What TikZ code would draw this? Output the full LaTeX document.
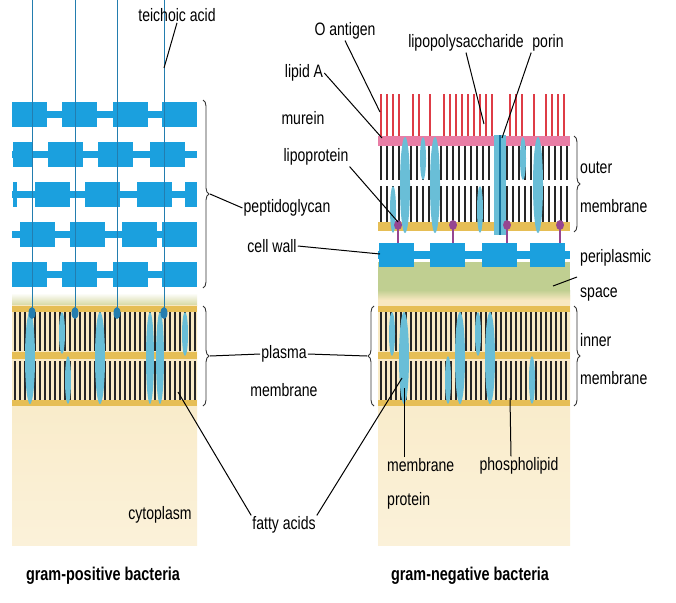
\documentclass[tikz,border=0pt]{standalone}
\usepackage{fontspec}
\setmainfont[FakeStretch=0.78]{Liberation Sans}
\usetikzlibrary{decorations.pathreplacing}
\definecolor{pg}{RGB}{27,160,222}
\definecolor{prot}{RGB}{105,190,215}
\definecolor{head}{RGB}{230,190,85}
\definecolor{oant}{RGB}{222,60,70}
\definecolor{lps}{RGB}{232,125,165}
\definecolor{peri}{RGB}{192,207,145}
\definecolor{cyto}{RGB}{248,232,192}
\definecolor{lpro}{RGB}{150,70,145}
\definecolor{tei}{RGB}{35,125,175}
\tikzset{
 lbl/.style={font=\fontsize{18}{19}\selectfont,inner sep=1pt},
 ttl/.style={font=\fontsize{18.5}{20}\selectfont\bfseries,inner sep=1pt},
 conn/.style={draw=black,line width=1pt},
 brc/.style={draw=black!80,line width=0.9pt,decorate,decoration={brace,amplitude=6pt}},
 tail/.style={line width=1.4pt,black!85},
}
\newcommand\pgrow[6]{% y, then 4 block x starts, width 35
 \fill[pg] (12,#1+9) rectangle (197,#1+16);
 \foreach \bx in {#2,#3,#4,#5} \fill[pg] (\bx,#1) rectangle (\bx+35,#1+25);
 #6}
\newcommand\bilayer[4]{% x1, x2, ytop, count
 \fill[head] (#1,#3) rectangle (#2,#3+6);
 \fill[head] (#1,#3+46) rectangle (#2,#3+53);
 \fill[head] (#1,#3+94) rectangle (#2,#3+100);
 \foreach \k in {0,...,#4} {
  \pgfmathsetmacro\xx{#1+3+5*\k}
  \draw[tail] (\xx,#3+6) -- (\xx,#3+45);
  \draw[tail] (\xx,#3+55) -- (\xx,#3+94);}
}
\begin{document}
\begin{tikzpicture}[x=1pt,y=-1pt]
\useasboundingbox (0,0) rectangle (676,602);
\fill[white] (0,0) rectangle (676,602);
% ---------------- gram positive
\shade[top color=white,bottom color=peri!60!cyto] (12,293) rectangle (197,305);
\shade[top color=cyto,bottom color=cyto!60!white] (12,305) rectangle (197,545);
\pgrow{102}{12}{62}{113}{162}{}
\pgrow{142}{48}{98}{150}{150}{\fill[pg](13,142) rectangle (32,167);}
\pgrow{182}{35}{85}{137}{137}{\fill[pg](13,182) rectangle (17,207);\fill[pg](185,182) rectangle (197,207);}
\pgrow{222}{20}{70}{122}{162}{}
\pgrow{262}{12}{62}{113}{162}{}
\bilayer{12}{197}{306}{36}
\foreach \x/\t/\b/\r in {30/312/404/5,62/312/354/3,68/356/404/3,100/312/404/5,150/312/404/4,160/312/404/4,185/312/356/3}
  \fill[prot] (\x,{(\t+\b)/2}) ellipse ({\r} and {(\b-\t)/2});
\foreach \x in {32,75,117,164} {
  \draw[tei,line width=1pt] (\x,0) -- (\x,312);
  \fill[tei] (\x,313) ellipse (3.5 and 6);}
% ---------------- gram negative
\shade[top color=cyto,bottom color=cyto!60!white] (378,295) rectangle (570,545);
\fill[peri] (378,262) rectangle (570,293);
\shade[top color=peri,bottom color=cyto] (378,290) rectangle (570,300);
\foreach \x in {381,387,393,399,413,419,430,444,450,456,462,468,474,480,486,492,510,516,522,534,546,552,558,564}
  \draw[oant,line width=1.4pt] (\x,94) -- (\x,136);
\fill[lps] (378,136) rectangle (570,146);
\foreach \x in {381,387,...,568} {
  \draw[tail] (\x,146) -- (\x,180);
  \draw[tail] (\x,186) -- (\x,222);}
\fill[head] (378,222) rectangle (570,231);
\foreach \x/\t/\b/\r in {405/137/233/5,423/137/180/3,435/137/233/5,393/186/233/3,480/186/233/3,523/137/180/3,538/137/233/5}
  \fill[prot] (\x,{(\t+\b)/2}) ellipse ({\r} and {(\b-\t)/2});
\fill[prot] (494,135) rectangle (506,235);
\fill[pg!70!black] (499,135) rectangle (501,235);
\fill[pg] (378,251) rectangle (570,259);
\foreach \bx in {379,430,482,530} \fill[pg] (\bx,243) rectangle (\bx+35,267);
\foreach \x in {398,453,507,560} {
  \draw[lpro,line width=1.2pt] (\x,226) -- (\x,243);
  \fill[lpro] (\x,225) ellipse (4 and 5);}
\bilayer{378}{570}{306}{37}
\foreach \x/\t/\b/\r in {392/312/356/3,404/312/404/5,448/356/404/3,460/312/404/5,478/312/356/3,490/312/404/5,532/356/404/3}
  \fill[prot] (\x,{(\t+\b)/2}) ellipse ({\r} and {(\b-\t)/2});
% ---------------- braces
\draw[brc] (203,100) -- (203,288);
\draw[brc] (203,306) -- (203,406);
\draw[brc] (574,136) -- (574,232);
\draw[brc] (574,306) -- (574,406);
\draw[brc] (374,406) -- (374,306);
\coordinate (bpg) at (210,194);
\coordinate (bpm) at (210,356);
\coordinate (bim) at (367,356);
% ---------------- labels
\node[lbl] (teich) at (177,15) {teichoic acid};
\node[lbl] (oag) at (345,31) {O antigen};
\node[lbl] (lpsl) at (466,43) {lipopolysaccharide};
\node[lbl] (porin) at (548,43) {porin};
\node[lbl] (lipa) at (304,73) {lipid A};
\node[lbl] (mur) at (303,118) {murein};
\node[lbl] (lpl) at (316,157) {lipoprotein};
\node[lbl] (pgl) at (287,208) {peptidoglycan};
\node[lbl] (cw) at (272,246) {cell wall};
\node[lbl,anchor=west] (per1) at (579,258) {periplasmic};
\node[lbl,anchor=west] (per2) at (579,295) {space};
\node[lbl,anchor=west] (om1) at (579,168) {outer};
\node[lbl,anchor=west] (om2) at (579,206) {membrane};
\node[lbl,anchor=west] (im1) at (579,340) {inner};
\node[lbl,anchor=west] (im2) at (579,378) {membrane};
\node[lbl] (pm1) at (284,354) {plasma};
\node[lbl] (pm2) at (284,390) {membrane};
\node[lbl,anchor=west] (mp1) at (386,465) {membrane};
\node[lbl,anchor=west] (mp2) at (386,501) {protein};
\node[lbl] (phl) at (519,466) {phospholipid};
\node[lbl] (fal) at (284,525) {fatty acids};
\node[lbl] (cyl) at (160,515) {cytoplasm};
\node[ttl] (gp) at (103,576) {gram-positive bacteria};
\node[ttl] (gn) at (470,576) {gram-negative bacteria};
% ---------------- connectors
\coordinate (tA) at (164,68);
\coordinate (oA) at (380,112);
\coordinate (lA) at (382,138);
\coordinate (lpA) at (398,222);
\coordinate (lpsA) at (484,124);
\coordinate (porA) at (502,138);
\coordinate (cwA) at (380,254);
\coordinate (perA) at (553,286);
\coordinate (perB) at (577,277);
\coordinate (fa1) at (178,392);
\coordinate (fa2) at (402,378);
\coordinate (mpA) at (404,388);
\coordinate (phA) at (510,398);
\draw[conn] (teich.south) -- (tA);
\draw[conn] (oag.south) -- (oA);
\draw[conn] (lipa.east) -- (lA);
\draw[conn] (lpl.south east) -- (lpA);
\draw[conn] (lpsl.south) -- (lpsA);
\draw[conn] (porin.south west) -- (porA);
\draw[conn] (pgl.west) -- (bpg);
\draw[conn] (cw.east) -- (cwA);
\draw[conn] (perB) -- (perA);
\draw[conn] (pm1.west) -- (bpm);
\draw[conn] (pm1.east) -- (bim);
\draw[conn] (fal.north west) -- (fa1);
\draw[conn] (fal.north east) -- (fa2);
\draw[conn] (mp1.north west) ++(18,0) -- (mpA);
\draw[conn] (phl.north) ++(-8,0) -- (phA);
\end{tikzpicture}
\end{document}
